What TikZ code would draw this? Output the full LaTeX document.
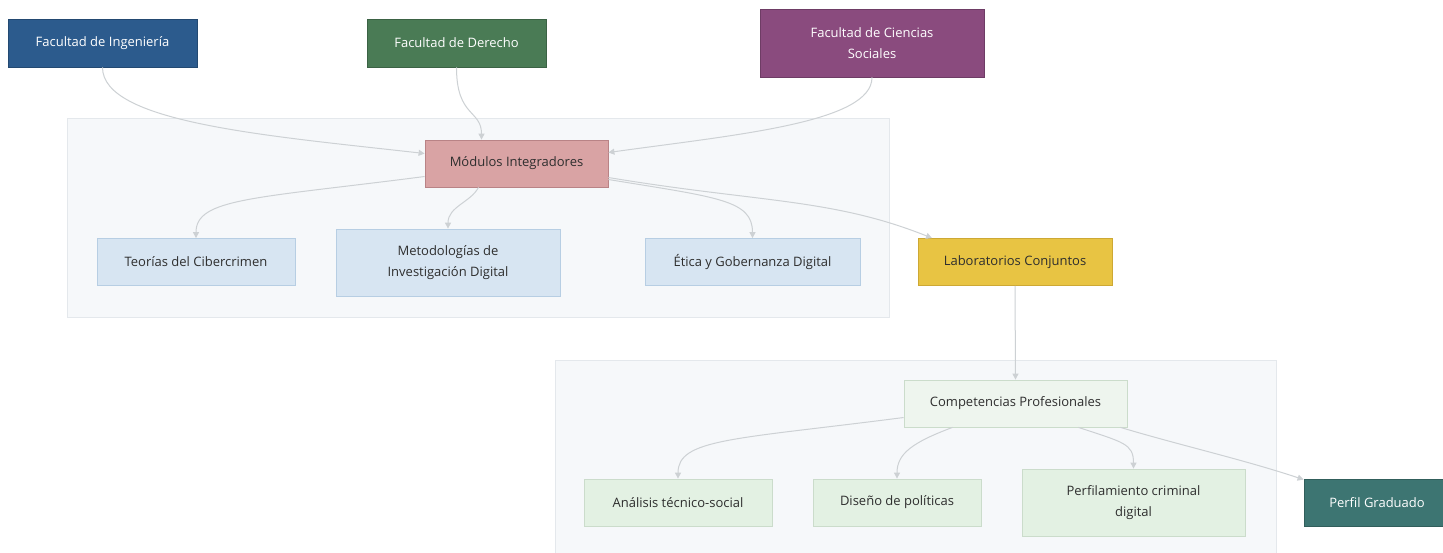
\documentclass[tikz,border=0pt]{standalone}
\usepackage{fontspec}
\setmainfont{Open Sans}
\usetikzlibrary{arrows.meta}
\definecolor{ingfill}{HTML}{2C5B8D}
\definecolor{derfill}{HTML}{4A7B55}
\definecolor{socfill}{HTML}{8A4B7E}
\definecolor{modfill}{HTML}{D9A3A4}
\definecolor{moddraw}{HTML}{B98386}
\definecolor{bluefill}{HTML}{D7E5F2}
\definecolor{bluedraw}{HTML}{B7CEE3}
\definecolor{yelfill}{HTML}{E8C443}
\definecolor{yeldraw}{HTML}{CDA834}
\definecolor{compfill}{HTML}{EEF5EE}
\definecolor{greenfill}{HTML}{E3F1E3}
\definecolor{greendraw}{HTML}{CBDCCB}
\definecolor{tealfill}{HTML}{3D7572}
\definecolor{clusterfill}{HTML}{F6F8FA}
\definecolor{clusterdraw}{HTML}{E4E8EC}
\definecolor{edgegray}{HTML}{CDD1D4}
\definecolor{txt}{HTML}{2E2E2E}
\tikzset{
  box/.style={rectangle, inner sep=0pt, align=center, font=\fontsize{13}{21}\selectfont, line width=0.8pt},
  darkbox/.style={box, text=white},
  lightbox/.style={box, text=txt},
  cluster/.style={fill=clusterfill, draw=clusterdraw, line width=0.8pt},
  edge/.style={draw=edgegray, line width=1pt, -{Triangle[length=6pt,width=6pt]}},
}
\begin{document}
\begin{tikzpicture}[x=1pt,y=-1pt]
\useasboundingbox (0,0) rectangle (1443,552);
\fill[white] (0,0) rectangle (1443,552);
% clusters
\path[cluster] (67,118) rectangle (889,317);
\path[cluster] (555,360) rectangle (1276,560);
% top faculties
\node[darkbox, fill=ingfill, draw=ingfill!80!black, minimum width=189, minimum height=48] (ing) at (102.5,43) {Facultad de Ingeniería};
\node[darkbox, fill=derfill, draw=derfill!80!black, minimum width=179, minimum height=48] (der) at (456.5,43) {Facultad de Derecho};
\node[darkbox, fill=socfill, draw=socfill!80!black, minimum width=224, minimum height=68] (soc) at (872,43) {Facultad de Ciencias\\Sociales};
% modules
\node[lightbox, fill=modfill, draw=moddraw, minimum width=183, minimum height=47] (mod) at (516.5,163.5) {Módulos Integradores};
\node[lightbox, fill=bluefill, draw=bluedraw, minimum width=198, minimum height=47] (teo) at (196,262) {Teorías del Cibercrimen};
\node[lightbox, fill=bluefill, draw=bluedraw, minimum width=224, minimum height=67] (met) at (448,262.5) {Metodologías de\\Investigación Digital};
\node[lightbox, fill=bluefill, draw=bluedraw, minimum width=215, minimum height=47] (eti) at (752.5,262) {Ética y Gobernanza Digital};
\node[lightbox, fill=yelfill, draw=yeldraw, minimum width=194, minimum height=47] (lab) at (1015,262) {Laboratorios Conjuntos};
% competences
\node[lightbox, fill=compfill, draw=greendraw, minimum width=223, minimum height=47] (comp) at (1015.5,403.5) {Competencias Profesionales};
\node[lightbox, fill=greenfill, draw=greendraw, minimum width=188, minimum height=47] (ana) at (678,502.5) {Análisis técnico-social};
\node[lightbox, fill=greenfill, draw=greendraw, minimum width=168, minimum height=47] (dis) at (897,502.5) {Diseño de políticas};
\node[lightbox, fill=greenfill, draw=greendraw, minimum width=223, minimum height=67] (per) at (1133.5,502.5) {Perfilamiento criminal\\digital};
\node[darkbox, fill=tealfill, draw=tealfill!80!black, minimum width=146, minimum height=47] (gra) at (1377,502.5) {Perfil Graduado};
% edges
\draw[edge] (ing.south) .. controls +(0,55) and +(-160,-18) .. ([yshift=10pt]mod.west);
\draw[edge] (der.south) .. controls +(0,50) and +(0,-30) .. ([xshift=-35pt]mod.north);
\draw[edge] (soc.south) .. controls +(0,45) and +(130,-18) .. ([yshift=11pt]mod.east);
\draw[edge] ([yshift=-13pt]mod.west) .. controls +(-170,22) and +(0,-40) .. (teo.north);
\draw[edge] ([xshift=-38pt]mod.south) .. controls +(-8,15) and +(0,-22) .. (met.north);
\draw[edge] ([yshift=-16pt]mod.east) .. controls +(110,18) and +(0,-38) .. (eti.north);
\draw[edge] ([yshift=-14pt]mod.east) .. controls +(150,25) and +(-100,-40) .. ([xshift=-83pt]lab.north);
\draw[edge] (lab.south) -- (comp.north);
\draw[edge] ([yshift=-14pt]comp.west) .. controls +(-170,22) and +(0,-40) .. (ana.north);
\draw[edge] ([xshift=-63pt]comp.south) .. controls +(-40,15) and +(0,-25) .. (dis.north);
\draw[edge] ([xshift=63pt]comp.south) .. controls +(45,15) and +(0,-25) .. (per.north);
\draw[edge] ([xshift=105pt]comp.south) .. controls +(60,18) and +(-60,-20) .. ([yshift=-1pt]gra.north west);
\end{tikzpicture}
\end{document}
